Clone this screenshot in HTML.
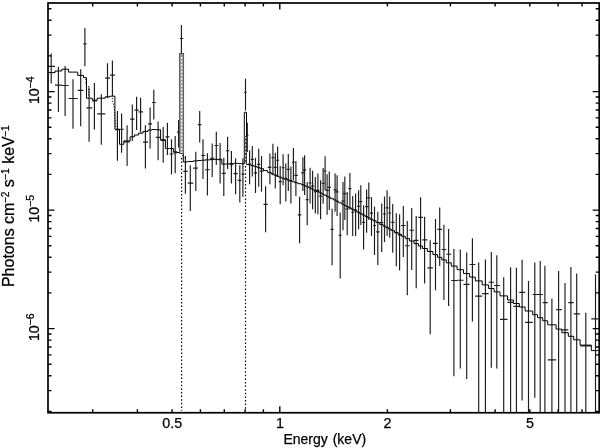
<!DOCTYPE html>
<html><head><meta charset="utf-8"><title>Spectrum</title>
<style>html,body{margin:0;padding:0;background:#fff}svg{display:block}</style></head>
<body>
<svg width="600" height="448" viewBox="0 0 600 448">
<rect x="0" y="0" width="600" height="448" fill="#fff"/>
<path d="M51.2 53.6V83.5M48.0 66.4H55.0M58.4 66.7V111.9M55.0 85.1H61.8M65.1 65.9V116.1M61.8 85.5H68.6M73.0 79.3V128.7M68.6 98.5H77.7M80.7 69.2V126.2M77.7 90.3H83.5M84.9 28.1V66.2M83.4 43.9H86.5M89.1 87.6V141.8M86.5 107.9H92.3M94.4 83.1V129.5M92.3 101.0H97.2M101.3 94.3V144.8M97.2 113.8H105.2M107.5 63.3V98.2M105.2 78.1H110.0M112.4 60.6V96.0M110.0 75.1H114.9M117.4 111.1V160.7M114.9 129.7H119.5M121.6 113.6V152.7M119.5 129.2H123.8M127.1 125.3V166.1M123.8 141.8H130.1M132.3 104.4V140.9M130.1 119.1H134.5M136.6 96.7V130.0M134.5 110.1H138.6M140.6 97.7V132.6M138.6 111.9H143.0M145.4 125.3V168.6M143.0 142.1H148.0M150.1 107.4V148.5M148.0 123.8H152.0M153.8 89.8V119.5M152.0 102.5H155.8M158.1 121.6V160.2M155.8 137.3H160.6M163.2 127.0V162.7M160.6 140.4H165.4M167.4 122.8V155.0M165.4 136.8H169.4M171.5 139.3V174.4M169.4 154.0H173.4M175.2 135.9V173.3M173.4 152.7H177.0M178.6 120.0V147.6M177.0 132.1H180.1M181.4 25.1V56.0M179.9 38.5H183.3M185.4 156.0V193.7M183.3 171.4H187.7M190.3 165.2V211.0M187.7 183.1H193.2M195.8 151.8V190.9M193.2 168.1H197.8M199.7 111.1V142.6M197.8 124.6H201.3M203.0 139.3V179.0M201.3 155.5H205.1M207.4 153.2V195.4M205.1 169.7H209.9M212.2 143.5V177.0M209.9 158.2H214.5M216.3 131.7V164.9M214.5 145.5H218.3M220.1 143.1V183.5M218.3 159.7H221.8M223.8 157.7V196.0M221.8 173.3H225.8M227.6 136.8V169.0M225.8 150.7H229.5M231.4 151.0V183.4M229.5 164.7H233.5M235.6 158.2V194.2M233.5 173.6H237.7M239.8 165.2V202.6M237.7 180.3H241.4M242.9 158.2V196.8M241.4 174.1H244.4M245.5 78.8V110.4M244.3 92.3H246.5M247.3 122.8V152.0M246.5 135.4H248.4M249.6 150.2V184.2M248.1 164.0H251.1M252.3 146.0V176.5M250.8 159.4H253.9M255.5 157.7V193.1M253.9 172.8H257.1M258.7 148.8V186.7M257.1 164.4H260.2M261.5 156.0V191.7M260.0 171.1H263.5M265.6 186.3V232.3M263.5 204.3H267.7M269.9 153.5V184.3M267.7 167.4H271.4M272.9 143.8V175.3M271.4 157.7H274.4M275.3 152.7V188.4M273.8 167.4H276.8M277.6 146.5V177.0M276.1 160.2H279.1M280.2 166.0V204.3M278.7 181.6H281.7M283.1 154.3V185.3M281.6 167.7H284.6M285.8 163.6V201.4M284.3 178.6H287.3M288.3 154.0V191.0M286.8 169.4H289.8M290.9 166.6V203.5M289.4 180.8H292.4M293.4 148.1V180.3M291.9 162.2H294.9M295.9 161.0V195.9M294.4 175.3H297.8M299.6 196.8V243.3M297.8 214.8H301.3M302.9 157.2V190.9M301.3 172.8H304.4M304.6 155.2V195.0M303.1 169.9H306.1M307.2 182.0V225.2M305.7 199.6H308.7M310.1 167.7V203.5M308.6 183.0H311.6M312.6 170.8V209.3M311.1 186.1H314.1M315.3 177.0V213.5M313.8 191.7H316.8M317.9 173.5V214.3M316.4 190.3H319.4M320.6 180.2V219.3M319.1 196.1H322.1M323.1 168.1V203.7M321.6 183.2H324.6M325.1 156.2V190.3M323.6 171.0H326.6M327.1 174.3V214.7M325.6 190.3H328.6M329.3 171.5V210.0M327.8 187.4H330.8M332.1 208.7V265.3M330.6 229.3H333.6M335.1 173.5V211.7M333.6 189.9H336.6M337.1 175.2V215.9M335.6 191.9H338.6M340.2 212.4V278.4M338.6 235.2H341.7M343.0 181.9V230.2M341.5 201.1H344.5M344.8 176.5V220.0M343.3 193.6H346.3M347.2 191.9V235.2M345.7 209.0H348.7M349.9 173.0V209.5M348.4 188.6H351.4M352.7 196.1V236.0M351.2 212.2H354.2M355.6 193.6V236.0M354.1 210.0H357.1M358.6 190.3V229.3M357.1 206.3H360.1M360.8 185.2V225.1M359.3 201.6H362.3M363.6 205.2V249.4M362.1 222.3H365.1M366.6 189.4V232.7M365.1 206.6H368.1M368.8 182.4V220.1M367.3 197.8H370.3M371.5 197.3V236.0M370.0 213.1H373.0M374.5 206.8V254.9M373.0 225.5H376.1M377.8 211.8V265.0M376.1 231.8H379.7M381.7 203.5V251.9M379.7 222.6H383.2M384.5 196.6V241.9M383.0 214.0H386.0M387.1 190.3V236.0M385.6 207.9H388.6M389.7 196.6V237.7M388.2 213.0H391.2M392.7 204.0V252.8M391.2 222.3H394.5M396.3 213.2V266.2M394.5 232.7H398.0M399.6 214.3V270.6M398.0 234.8H401.5M403.3 206.0V257.0M401.0 225.5H405.6M407.3 221.0V295.3M405.0 245.7H409.6M411.7 207.9V270.1M409.4 230.2H414.0M416.2 216.0V288.2M413.9 240.3H418.5M420.6 197.2V249.5M418.3 217.3H422.9M424.6 216.8V283.5M422.3 239.9H427.4M430.2 240.3V334.3M427.4 267.9H432.9M435.5 219.0V290.2M432.9 243.3H437.8M439.7 207.6V265.9M437.4 229.4H442.0M443.9 224.8V299.9M441.6 249.5H446.3M448.6 228.9V306.1M446.3 254.2H451.3M453.9 249.0V376.2M451.3 280.5H457.1M460.3 249.5V368.6M457.1 280.2H463.5M466.7 252.5V379.0M463.5 284.3H469.6M472.4 238.2V321.4M469.6 264.5H475.3M478.7 262.4V412.5M475.3 296.1H482.2M485.4 259.5V412.5M482.2 293.6H488.6M491.3 252.0V367.8M488.6 282.2H494.1M496.8 255.3V368.6M494.1 285.5H500.0M503.7 277.3V412.5M500.0 319.4H507.5M510.6 267.2V412.5M507.5 302.3H513.4M516.4 267.7V412.5M513.4 306.3H519.3M522.1 259.8V400.6M519.3 292.3H525.1M528.5 281.1V412.5M525.1 322.4H532.7M534.8 262.4V397.8M532.7 294.5H537.5M540.2 261.0V412.5M537.5 294.5H542.7M544.9 265.7V412.5M542.7 302.6H547.7M551.9 298.6V412.5M547.7 359.8H556.1M558.6 271.1V412.5M556.1 309.6H561.8M565.0 283.0V412.5M561.8 329.9H568.3M570.9 266.9V412.5M568.3 302.6H573.7M576.7 273.6V412.5M573.7 313.8H580.1M585.8 312.7V412.5M580.1 345.8H591.3M595.5 274.4V412.5M591.3 318.9H598.5" stroke="#1c1c1c" stroke-width="1.15" fill="none"/>
<path d="M48.0 72.6H55.0V71.0H61.8V69.2H68.6V72.1H77.7V75.4H83.5V77.6H86.5V98.2H92.3V100.2H97.2V98.2H105.2V96.8H110.0V96.2H114.9V129.2H119.5V144.3H123.8V140.9H130.1V136.8H134.5V135.0H138.6V133.2H143.0V131.5H148.0V130.0H152.0V129.5H155.8V129.8H160.6V139.8H165.4V148.5H169.4V148.5H173.4V151.8H177.0V152.5H179.9V53.6H183.3V162.0H187.7V161.5H193.2V160.9H197.8V160.5H201.3V160.2H205.1V159.9H209.9V159.6H214.5V159.4H218.3V159.3H221.8V164.1H225.8V163.9H229.5V163.6H233.5V163.3H237.7V163.6H241.4V163.8H244.3V112.3H246.5V164.4H248.4V164.8H251.0V165.4H253.9V166.5H257.1V167.6H260.1V168.7H263.5V170.6H267.7V172.6H271.4V174.0H274.1V175.1H276.5V176.2H278.9V177.2H281.7V178.2H284.5V179.1H287.1V180.0H289.6V180.9H292.2V181.7H294.7V182.7H297.8V183.7H301.3V184.7H303.8V185.6H305.9V186.7H308.7V187.9H311.3V189.1H313.8V190.3H316.6V191.6H319.3V192.9H321.9V194.1H324.1V195.2H326.1V196.2H328.2V197.3H330.7V198.7H333.6V200.0H336.1V201.3H338.6V202.8H341.6V204.1H343.9V205.3H346.0V206.5H348.5V207.9H351.3V209.3H354.1V210.8H357.1V212.3H359.7V213.6H362.2V215.0H365.1V216.5H367.7V217.8H370.1V219.2H373.0V220.8H376.1V222.6H379.7V224.5H383.1V226.1H385.8V227.5H388.4V229.0H391.2V230.6H394.5V232.4H398.0V234.3H401.5V236.3H405.3V238.6H409.5V241.0H414.0V243.6H418.4V246.0H422.6V248.5H427.4V251.5H432.9V254.6H437.6V257.3H441.8V259.9H446.3V262.8H451.3V266.1H457.1V269.7H463.5V273.5H469.6V277.1H475.3V280.9H482.2V284.9H488.6V288.5H494.1V291.9H500.0V295.9H507.5V300.0H513.4V303.5H519.3V307.0H525.1V311.0H532.7V314.7H537.5V317.7H542.7V320.8H547.7V324.8H556.1V329.1H561.8V332.7H568.3V336.3H573.7V339.8H580.1V345.1H591.3V350.6H598.5" stroke="#000" stroke-width="1.0" fill="none" stroke-linejoin="miter"/>
<path d="M181.6 158V410.75M245.5 166V410.75" stroke="#000" stroke-width="1.2" stroke-dasharray="1.5 2.1" fill="none"/>
<rect x="179.6" y="53.6" width="4.1" height="100" fill="#999" stroke="#555" stroke-width="0.7"/>
<path d="M181.6 57V153" stroke="#fff" stroke-width="1.3" stroke-dasharray="1.8 1.7" fill="none"/>
<path d="M181 153L184.2 158" stroke="#000" stroke-width="1" stroke-dasharray="1.3 1.3" fill="none"/>
<rect x="244.5" y="136" width="2.3" height="28" fill="#444"/>
<path d="M245.6 137V164" stroke="#fff" stroke-width="0.9" stroke-dasharray="1.6 2" fill="none"/>
<path d="M85.8 79V85M88.6 86V96M112.3 98L114.4 110L116 128" stroke="#000" stroke-width="0.9" stroke-dasharray="1.2 1.6" fill="none"/>
<rect x="48.0" y="3.0" width="551.2" height="409.75" fill="none" stroke="#000" stroke-width="1.7"/>
<path d="M92.7 412.75v-3.5M92.7 3.0v3.5M137.4 412.75v-3.5M137.4 3.0v3.5M172.1 412.75v-3.5M172.1 3.0v3.5M200.4 412.75v-3.5M200.4 3.0v3.5M224.3 412.75v-3.5M224.3 3.0v3.5M245.1 412.75v-3.5M245.1 3.0v3.5M263.4 412.75v-3.5M263.4 3.0v3.5M279.8 412.75v-6.5M279.8 3.0v6.5M387.4 412.75v-3.5M387.4 3.0v3.5M450.4 412.75v-3.5M450.4 3.0v3.5M495.1 412.75v-3.5M495.1 3.0v3.5M529.8 412.75v-3.5M529.8 3.0v3.5M558.1 412.75v-3.5M558.1 3.0v3.5M582.0 412.75v-3.5M582.0 3.0v3.5M48.0 411.4h3.5M599.2 411.4h-3.5M48.0 390.6h3.5M599.2 390.6h-3.5M48.0 375.8h3.5M599.2 375.8h-3.5M48.0 364.3h3.5M599.2 364.3h-3.5M48.0 354.9h3.5M599.2 354.9h-3.5M48.0 347.0h3.5M599.2 347.0h-3.5M48.0 340.1h3.5M599.2 340.1h-3.5M48.0 334.0h3.5M599.2 334.0h-3.5M48.0 328.6h6.5M599.2 328.6h-6.5M48.0 292.9h3.5M599.2 292.9h-3.5M48.0 272.1h3.5M599.2 272.1h-3.5M48.0 257.3h3.5M599.2 257.3h-3.5M48.0 245.8h3.5M599.2 245.8h-3.5M48.0 236.4h3.5M599.2 236.4h-3.5M48.0 228.5h3.5M599.2 228.5h-3.5M48.0 221.6h3.5M599.2 221.6h-3.5M48.0 215.5h3.5M599.2 215.5h-3.5M48.0 210.1h6.5M599.2 210.1h-6.5M48.0 174.4h3.5M599.2 174.4h-3.5M48.0 153.6h3.5M599.2 153.6h-3.5M48.0 138.8h3.5M599.2 138.8h-3.5M48.0 127.3h3.5M599.2 127.3h-3.5M48.0 117.9h3.5M599.2 117.9h-3.5M48.0 110.0h3.5M599.2 110.0h-3.5M48.0 103.1h3.5M599.2 103.1h-3.5M48.0 97.0h3.5M599.2 97.0h-3.5M48.0 91.6h6.5M599.2 91.6h-6.5M48.0 55.9h3.5M599.2 55.9h-3.5M48.0 35.1h3.5M599.2 35.1h-3.5M48.0 20.3h3.5M599.2 20.3h-3.5M48.0 8.8h3.5M599.2 8.8h-3.5" stroke="#000" stroke-width="1.4" fill="none"/>
<text x="172.2" y="428.4" font-size="14.3" text-anchor="middle" font-family="'Liberation Sans', Arial, Helvetica, sans-serif" stroke="#000" stroke-width="0.25">0.5</text>
<text x="279.9" y="428.4" font-size="14.3" text-anchor="middle" font-family="'Liberation Sans', Arial, Helvetica, sans-serif" stroke="#000" stroke-width="0.25">1</text>
<text x="387.5" y="428.4" font-size="14.3" text-anchor="middle" font-family="'Liberation Sans', Arial, Helvetica, sans-serif" stroke="#000" stroke-width="0.25">2</text>
<text x="529.9" y="428.4" font-size="14.3" text-anchor="middle" font-family="'Liberation Sans', Arial, Helvetica, sans-serif" stroke="#000" stroke-width="0.25">5</text>
<text x="324.8" y="444.3" font-size="14" word-spacing="1" text-anchor="middle" font-family="'Liberation Sans', Arial, Helvetica, sans-serif" stroke="#000" stroke-width="0.25">Energy (keV)</text>
<text transform="translate(38.9 104.1) rotate(-90)" font-size="14.3" font-family="'Liberation Sans', Arial, Helvetica, sans-serif" stroke="#000" stroke-width="0.25">10<tspan dx="-0.3" dy="-5.3" font-size="10.6">−4</tspan></text>
<text transform="translate(38.9 222.6) rotate(-90)" font-size="14.3" font-family="'Liberation Sans', Arial, Helvetica, sans-serif" stroke="#000" stroke-width="0.25">10<tspan dx="-0.3" dy="-5.3" font-size="10.6">−5</tspan></text>
<text transform="translate(38.9 341.1) rotate(-90)" font-size="14.3" font-family="'Liberation Sans', Arial, Helvetica, sans-serif" stroke="#000" stroke-width="0.25">10<tspan dx="-0.3" dy="-5.3" font-size="10.6">−6</tspan></text>
<text transform="translate(13.9 206.2) scale(1.02 1) rotate(-90)" font-size="16" text-anchor="middle" font-family="'Liberation Sans', Arial, Helvetica, sans-serif" stroke="#000" stroke-width="0.25">Photons cm<tspan dx="-0.7" dy="-5.2" font-size="10.2">−2</tspan><tspan dy="5.2"> s</tspan><tspan dx="-0.7" dy="-5.2" font-size="10.2">−1</tspan><tspan dy="5.2"> keV</tspan><tspan dx="-0.7" dy="-5.2" font-size="10.2">−1</tspan></text>
</svg>
</body></html>
